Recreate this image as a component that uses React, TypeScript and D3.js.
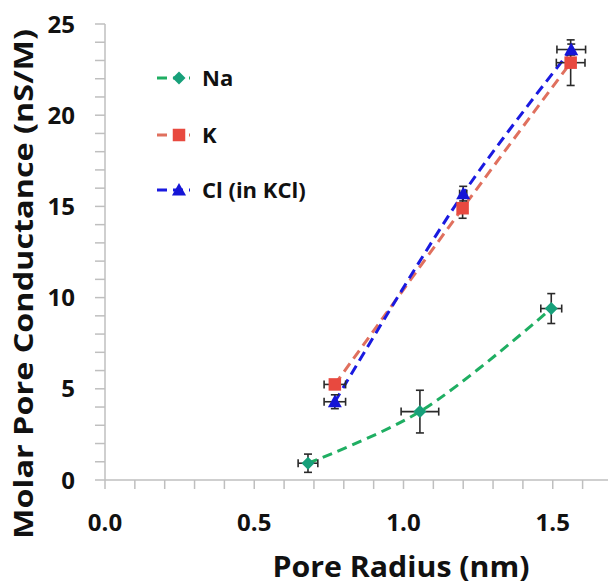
import React from "react";
import * as d3 from "d3";

const naX = [0.68, 1.055, 1.495];
const naY = [0.92, 3.75, 9.4];
const naXErr = [0.033, 0.063, 0.035];
const naYErr = [0.5, 1.17, 0.82];

const kX = [0.77, 1.198, 1.56];
const kY = [5.24, 14.9, 22.88];
const kXErr = [0.036, 0.012, 0.048];
const kYErr = [0.2, 0.55, 1.25];

const clX = [0.77, 1.2, 1.562];
const clY = [4.29, 15.7, 23.6];
const clXErr = [0.036, 0.012, 0.048];
const clYErr = [0.38, 0.4, 0.3];

const xTicks = [0.0, 0.5, 1.0, 1.5];
const yTicks = [0, 5, 10, 15, 20, 25];

const W = 608;
const H = 586;
const FONT = "'Open Sans', 'DejaVu Sans', sans-serif";

const x = d3.scaleLinear().domain([0, 1.7]).range([105, 105 + 1.7 * 298.5]);
const y = d3.scaleLinear().domain([0, 25]).range([480, 24]);

type Series = {
  name: string;
  xs: number[];
  ys: number[];
  xe: number[];
  ye: number[];
  line: string;
  fill: string;
  shape: "diamond" | "square" | "triangle";
};

const series: Series[] = [
  { name: "Na", xs: naX, ys: naY, xe: naXErr, ye: naYErr, line: "#1fae62", fill: "#17a07a", shape: "diamond" },
  { name: "K", xs: kX, ys: kY, xe: kXErr, ye: kYErr, line: "#e0705e", fill: "#e8493f", shape: "square" },
  { name: "Cl (in KCl)", xs: clX, ys: clY, xe: clXErr, ye: clYErr, line: "#1a1ae0", fill: "#1515d6", shape: "triangle" },
];

function Marker({ cx, cy, shape, fill }: { cx: number; cy: number; shape: string; fill: string }) {
  if (shape === "diamond") {
    const r = 6.5;
    return <path d={`M${cx},${cy - r}L${cx + r},${cy}L${cx},${cy + r}L${cx - r},${cy}Z`} fill={fill} />;
  }
  if (shape === "square") {
    const s = 12.5;
    return <rect x={cx - s / 2} y={cy - s / 2} width={s} height={s} fill={fill} />;
  }
  const r = 7;
  return <path d={`M${cx},${cy - r}L${cx + r},${cy + r * 0.8}L${cx - r},${cy + r * 0.8}Z`} fill={fill} />;
}

export default function App() {
  const line = d3
    .line<[number, number]>()
    .x((d) => x(d[0]))
    .y((d) => y(d[1]))
    .curve(d3.curveCatmullRom.alpha(0.5));

  const xMinor = d3.range(0, 1.71, 0.1);
  const yMinor = d3.range(0, 25.01, 1);
  const axisColor = "#bfbfbf";
  const errColor = "#2a2a2a";
  const cap = 4;

  const legendY = [78, 135, 190];

  return (
    <svg width={W} height={H} style={{ position: "absolute", left: 0, top: 0, background: "#fff" }} fontFamily={FONT}>
      {/* axes */}
      <line x1={x(0)} x2={W} y1={y(0)} y2={y(0)} stroke={axisColor} strokeWidth={1.5} />
      <line x1={x(0)} x2={x(0)} y1={y(0)} y2={y(25)} stroke={axisColor} strokeWidth={1.5} />
      {xMinor.map((t, i) => (
        <line key={"xt" + i} x1={x(t)} x2={x(t)} y1={y(0)} y2={y(0) + 9} stroke={axisColor} strokeWidth={1.5} />
      ))}
      {yMinor.map((t, i) => (
        <line key={"yt" + i} x1={x(0) - 10} x2={x(0)} y1={y(t)} y2={y(t)} stroke={axisColor} strokeWidth={1.5} />
      ))}
      {xTicks.map((t) => (
        <text key={"xl" + t} x={x(t)} y={531} textAnchor="middle" fontSize={24} fontWeight="bold" fill="#111">
          {t.toFixed(1)}
        </text>
      ))}
      {yTicks.map((t) => (
        <text key={"yl" + t} x={75} y={y(t) + 8.5} textAnchor="end" fontSize={24} fontWeight="bold" fill="#111">
          {t}
        </text>
      ))}
      <text
        x={401}
        y={577}
        textAnchor="middle"
        fontSize={28}
        fontWeight="bold"
        fill="#111"
        textLength={257}
        lengthAdjust="spacingAndGlyphs"
      >
        Pore Radius (nm)
      </text>
      <text
        transform={`translate(33,284) rotate(-90)`}
        textAnchor="middle"
        fontSize={27}
        fontWeight="bold"
        fill="#111"
        textLength={510}
        lengthAdjust="spacingAndGlyphs"
      >
        Molar Pore Conductance (nS/M)
      </text>

      {/* lines */}
      {series.map((s) => (
        <path
          key={"l" + s.name}
          d={line(s.xs.map((v, i) => [v, s.ys[i]] as [number, number])) || ""}
          fill="none"
          stroke={s.line}
          strokeWidth={3}
          strokeDasharray="10,6"
        />
      ))}

      {/* error bars */}
      {series.map((s) =>
        s.xs.map((v, i) => {
          const cx = x(v);
          const cy = y(s.ys[i]);
          const x0 = x(v - s.xe[i]);
          const x1 = x(v + s.xe[i]);
          const y0 = y(s.ys[i] - s.ye[i]);
          const y1 = y(s.ys[i] + s.ye[i]);
          return (
            <g key={"e" + s.name + i} stroke={errColor} strokeWidth={1.6}>
              <line x1={x0} x2={x1} y1={cy} y2={cy} />
              <line x1={x0} x2={x0} y1={cy - cap} y2={cy + cap} />
              <line x1={x1} x2={x1} y1={cy - cap} y2={cy + cap} />
              <line x1={cx} x2={cx} y1={y0} y2={y1} />
              <line x1={cx - cap} x2={cx + cap} y1={y0} y2={y0} />
              <line x1={cx - cap} x2={cx + cap} y1={y1} y2={y1} />
            </g>
          );
        })
      )}

      {/* markers */}
      {series.map((s) =>
        s.xs.map((v, i) => (
          <Marker key={"m" + s.name + i} cx={x(v)} cy={y(s.ys[i])} shape={s.shape} fill={s.fill} />
        ))
      )}

      {/* legend */}
      {series.map((s, i) => (
        <g key={"lg" + s.name}>
          <line x1={157} x2={190} y1={legendY[i]} y2={legendY[i]} stroke={s.line} strokeWidth={3} strokeDasharray="10,6" />
          <Marker cx={179} cy={legendY[i]} shape={s.shape} fill={s.fill} />
          <text x={202} y={legendY[i] + 8} fontSize={22} fontWeight="bold" fill="#111">
            {s.name}
          </text>
        </g>
      ))}
    </svg>
  );
}
